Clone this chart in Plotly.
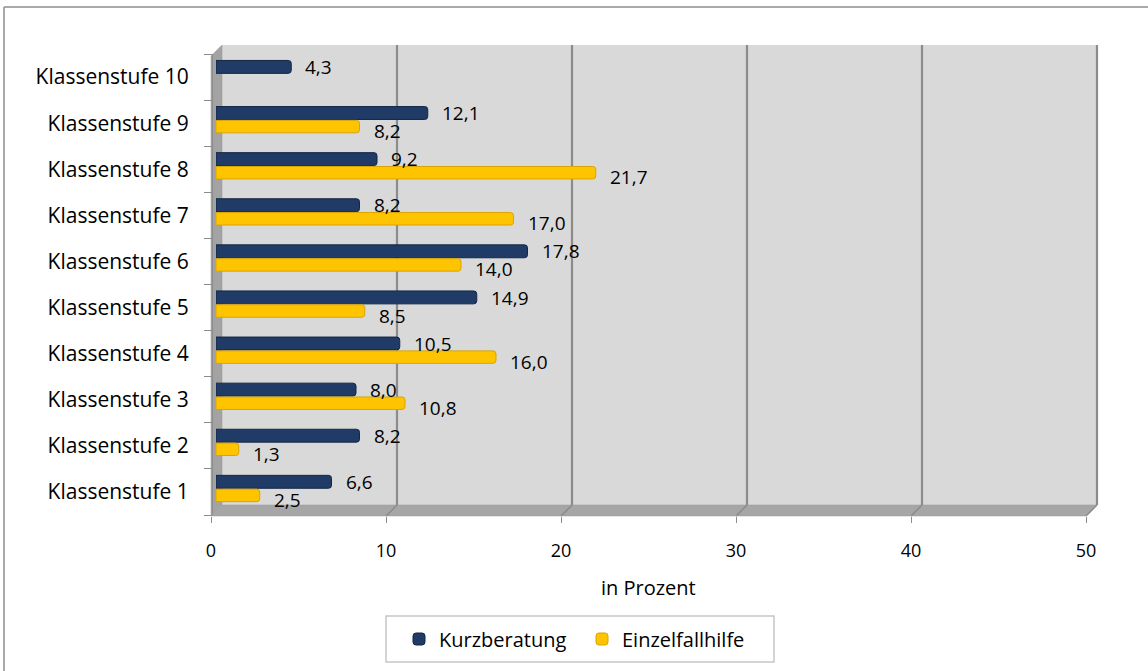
import plotly.graph_objects as go

# ---- data -------------------------------------------------------------
categories = [f"Klassenstufe {i}" for i in range(1, 11)]
kurzberatung = [6.6, 8.2, 8.0, 10.5, 14.9, 17.8, 8.2, 9.2, 12.1, 4.3]
einzelfallhilfe = [2.5, 1.3, 10.8, 16.0, 8.5, 14.0, 17.0, 21.7, 8.2, None]
x_ticks = [0, 10, 20, 30, 40, 50]
x_title = "in Prozent"

# ---- geometry helpers (pixel -> paper) ---------------------------------
W, H = 1148, 671
FONT = "Open Sans, Noto Sans, sans-serif"
GRID = "#8C8C8C"


def fx(px):
    return px / W


def fy(py):
    return 1 - py / H


# front edge of the pseudo-3D box and depth offset of the back wall
FRONT_X0, FRONT_BOTTOM, PX_PER_UNIT = 211, 516, 17.5
DEPTH_X, DEPTH_Y = 11, 11
BACK_X0 = FRONT_X0 + DEPTH_X
BACK_TOP, BACK_BOTTOM = 45, FRONT_BOTTOM - DEPTH_Y
BAR_X0 = 216  # bars sit half-way into the box


def fmt(v):
    return f"{v:.1f}".replace(".", ",")


fig = go.Figure()

fig.add_trace(go.Bar(
    name="Kurzberatung", y=categories, x=kurzberatung, orientation="h",
    offset=0.08, width=0.28,
    marker=dict(color="#1F3B66", line=dict(color="#132744", width=1), cornerradius=3),
    xaxis="x", yaxis="y", hoverinfo="x+y",
))
fig.add_trace(go.Bar(
    name="Einzelfallhilfe", y=categories, x=einzelfallhilfe, orientation="h",
    offset=-0.21, width=0.27,
    marker=dict(color="#FFC400", line=dict(color="#D9A400", width=1), cornerradius=3),
    xaxis="x", yaxis="y", hoverinfo="x+y",
))
# empty trace that carries the front value axis
fig.add_trace(go.Scatter(x=[], y=[], xaxis="x2", yaxis="y2", showlegend=False,
                         hoverinfo="skip"))

# ---- value labels ---------------------------------------------------------
annotations = []
for cat, v in zip(categories, kurzberatung):
    if v is not None:
        annotations.append(dict(x=v, y=cat, xref="x", yref="y", text=fmt(v),
                                showarrow=False, xanchor="left", yanchor="middle",
                                xshift=12, yshift=10,
                                font=dict(family=FONT, size=19, color="#000")))
for cat, v in zip(categories, einzelfallhilfe):
    if v is not None:
        annotations.append(dict(x=v, y=cat, xref="x", yref="y", text=fmt(v),
                                showarrow=False, xanchor="left", yanchor="middle",
                                xshift=12, yshift=-8,
                                font=dict(family=FONT, size=19, color="#000")))
annotations.append(dict(x=fx(648), y=fy(587), xref="paper", yref="paper",
                        text=x_title, showarrow=False, xanchor="center", yanchor="middle",
                        font=dict(family=FONT, size=20, color="#000")))

# ---- box: back wall, left wall, floor, grid lines ------------------------
shapes = []
# outer chart border (top and left edge visible)
shapes.append(dict(type="line", xref="paper", yref="paper", x0=fx(4), y0=fy(7),
                   x1=fx(W + 10), y1=fy(7), line=dict(color="#8E8E8E", width=1.5)))
shapes.append(dict(type="line", xref="paper", yref="paper", x0=fx(4), y0=fy(7),
                   x1=fx(4), y1=fy(H + 10), line=dict(color="#8E8E8E", width=1.5)))
# legend frame
shapes.append(dict(type="rect", xref="paper", yref="paper", layer="below",
                   x0=fx(386), x1=fx(774), y0=fy(662), y1=fy(616),
                   fillcolor="white", line=dict(color="#C6C6C6", width=1.5)))

back_x1 = BACK_X0 + PX_PER_UNIT * x_ticks[-1]
front_x1 = FRONT_X0 + PX_PER_UNIT * x_ticks[-1]
shapes.append(dict(type="rect", xref="paper", yref="paper", layer="below",
                   x0=fx(BACK_X0), x1=fx(back_x1), y0=fy(BACK_BOTTOM), y1=fy(BACK_TOP),
                   fillcolor="#D9D9D9", line=dict(width=0)))


def path(points):
    return "M " + " L ".join(f"{fx(a)},{fy(b)}" for a, b in points) + " Z"


shapes.append(dict(type="path", xref="paper", yref="paper", layer="below",
                   path=path([(FRONT_X0, BACK_TOP + DEPTH_Y), (BACK_X0, BACK_TOP),
                              (BACK_X0, BACK_BOTTOM), (FRONT_X0, FRONT_BOTTOM)]),
                   fillcolor="#A3A3A3", line=dict(color="#999999", width=0.5)))
shapes.append(dict(type="path", xref="paper", yref="paper", layer="below",
                   path=path([(FRONT_X0, FRONT_BOTTOM), (BACK_X0, BACK_BOTTOM),
                              (back_x1, BACK_BOTTOM), (front_x1, FRONT_BOTTOM)]),
                   fillcolor="#A6A6A6", line=dict(color="#9A9A9A", width=0.5)))
for v in x_ticks[1:]:
    bx = BACK_X0 + PX_PER_UNIT * v
    fxp = FRONT_X0 + PX_PER_UNIT * v
    shapes.append(dict(type="line", xref="paper", yref="paper", layer="below",
                       x0=fx(bx), x1=fx(bx), y0=fy(BACK_BOTTOM), y1=fy(BACK_TOP),
                       line=dict(color=GRID, width=2.2)))
    shapes.append(dict(type="line", xref="paper", yref="paper", layer="below",
                       x0=fx(bx), x1=fx(fxp), y0=fy(BACK_BOTTOM), y1=fy(FRONT_BOTTOM),
                       line=dict(color=GRID, width=1.5)))

fig.update_layout(
    template="none",
    width=W, height=H, autosize=False,
    margin=dict(l=0, r=0, t=0, b=0, pad=0, autoexpand=False),
    paper_bgcolor="white", plot_bgcolor="rgba(0,0,0,0)",
    barmode="overlay", separators=",.",
    font=dict(family=FONT, color="#000"),
    xaxis=dict(domain=[fx(BAR_X0), fx(BAR_X0 + PX_PER_UNIT * 50)], range=[0, 50],
               visible=False, fixedrange=True, automargin=False),
    yaxis=dict(type="category", categoryorder="array", categoryarray=categories,
               domain=[fy(515), fy(54)], range=[-0.5, 9.5],
               anchor="free", position=fx(212), side="left",
               tickson="boundaries", ticks="outside", ticklen=8, tickcolor=GRID,
               showline=True, linecolor=GRID, linewidth=1, showgrid=False,
               zeroline=False, ticklabelstandoff=19, automargin=False,
               tickfont=dict(family=FONT, size=21, color="#000"), fixedrange=True),
    xaxis2=dict(domain=[fx(FRONT_X0), fx(front_x1)], range=[0, 50], anchor="y2",
                tickvals=x_ticks, ticktext=[str(t) for t in x_ticks],
                ticks="outside", ticklen=6, tickcolor=GRID, showline=False,
                showgrid=False, zeroline=False, ticklabelstandoff=12, automargin=False,
                tickfont=dict(family=FONT, size=18, color="#000"), fixedrange=True),
    yaxis2=dict(domain=[fy(FRONT_BOTTOM), fy(BACK_TOP)], range=[0, 1], anchor="x2",
                visible=False, fixedrange=True, automargin=False),
    legend=dict(orientation="h", x=fx(399), y=fy(639), xanchor="left", yanchor="middle",
                entrywidth=138, entrywidthmode="pixels",
                bordercolor="rgba(0,0,0,0)", borderwidth=0, bgcolor="rgba(0,0,0,0)",
                font=dict(family=FONT, size=20, color="#000"),
                traceorder="normal"),
    shapes=shapes,
    annotations=annotations,
)

fig.write_html("out.html")
